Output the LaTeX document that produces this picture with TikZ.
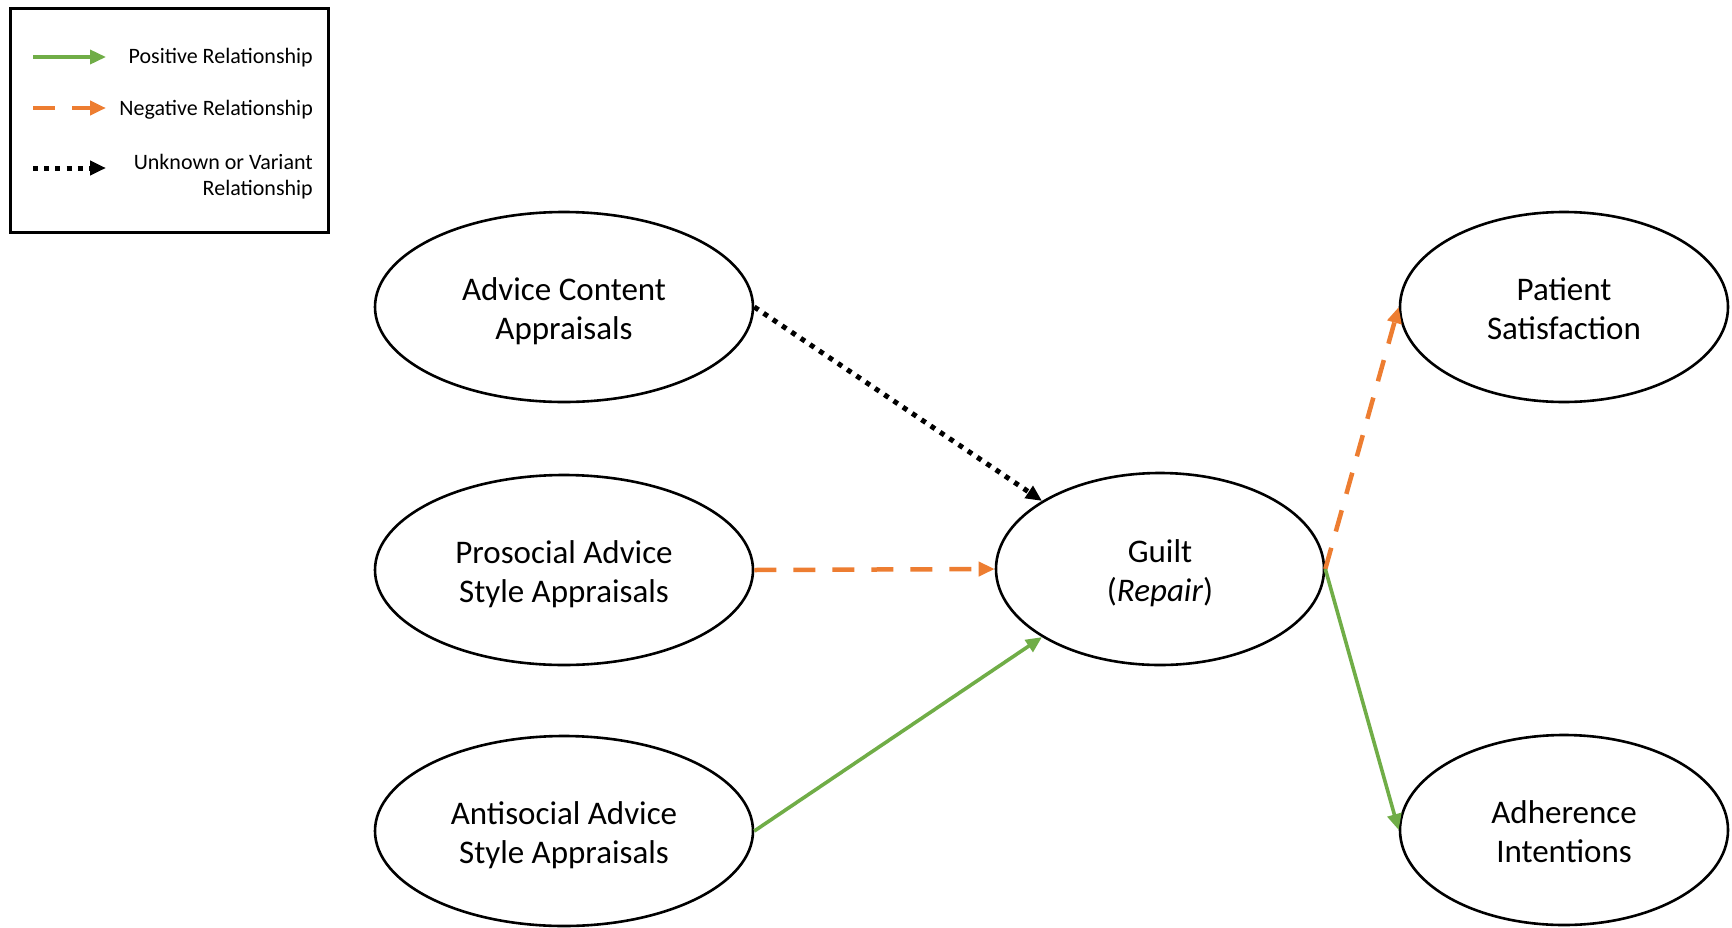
\documentclass[tikz,border=0pt]{standalone}
\usepackage{fontspec}
\setmainfont{Carlito}
\usetikzlibrary{shapes.geometric,arrows.meta}

\definecolor{posgreen}{HTML}{70AD47}
\definecolor{negorange}{HTML}{ED7D31}

\begin{document}
\begin{tikzpicture}[x=1pt,y=-1pt,
  construct/.style={ellipse,draw,line width=2.6pt,inner sep=0pt},
  wideconstruct/.style={construct,minimum width=378pt,minimum height=190pt},
  narrowconstruct/.style={construct,minimum width=328pt,minimum height=190pt},
  constructtext/.style={inner sep=0pt,align=center,yshift=-4.5pt,
    font=\fontsize{33}{39}\selectfont},
  legtext/.style={inner sep=0pt,align=right,font=\fontsize{22}{26}\selectfont},
  postip/.style={-{Triangle[length=16pt,width=14pt]}},
  posrel/.style={postip,draw=posgreen,line width=3.6pt},
  negrel/.style={postip,draw=negorange,line width=4.5pt,dash pattern=on 22pt off 17pt},
  unkrel/.style={postip,draw=black,line width=5pt,dash pattern=on 5pt off 6.2pt}]

\useasboundingbox (0,0) rectangle (1732,927);

% legend
\node[draw,line width=3pt,inner sep=0pt,minimum width=318pt,minimum height=224pt]
  (legend) at (169,120) {};
\coordinate (posA) at (33,57);  \coordinate (posB) at (106,57);
\coordinate (negA) at (33,108); \coordinate (negB) at (106,108);
\coordinate (unkA) at (33,168); \coordinate (unkB) at (106,168);
\draw[posrel] (posA) -- (posB);
\draw[negrel] (negA) -- (negB);
\draw[unkrel] (unkA) -- (unkB);
\node[legtext,anchor=east] (posT) at (313,58) {Positive Relationship};
\node[legtext,anchor=east] (negT) at (313,110) {Negative Relationship};
\node[legtext,anchor=east] (unkT) at (313,177) {Unknown or Variant\\Relationship};

% constructs
\node[wideconstruct] (advice) at (564,307) {};
\node[wideconstruct] (prosocial) at (564,570) {};
\node[wideconstruct] (antisocial) at (564,831) {};
\node[narrowconstruct,minimum height=192pt] (guilt) at (1160,569) {};
\node[narrowconstruct] (patient) at (1564,307) {};
\node[narrowconstruct] (adherence) at (1564,830) {};

% construct labels (lines without descenders sit a little higher)
\node[constructtext] (adviceT) at (advice.center) {Advice Content\\Appraisals};
\node[constructtext] (prosocialT) at (prosocial.center) {Prosocial Advice\\Style Appraisals};
\node[constructtext] (antisocialT) at (antisocial.center) {Antisocial Advice\\Style Appraisals};
\node[constructtext] (guiltT) at (guilt.center) {Guilt\\(\textit{Repair})};
\node[constructtext,yshift=3pt] (patientT) at (patient.center) {Patient\\Satisfaction};
\node[constructtext,yshift=3pt] (adherenceT) at (adherence.center) {Adherence\\Intentions};

% relationships
\draw[unkrel] (advice.east) -- (guilt.150);
\draw[negrel] (prosocial.east) -- (guilt.west);
\draw[posrel] (antisocial.east) -- (guilt.210);
\draw[negrel] (guilt.east) -- (patient.west);
\draw[posrel] (guilt.east) -- (adherence.west);

\end{tikzpicture}
\end{document}
